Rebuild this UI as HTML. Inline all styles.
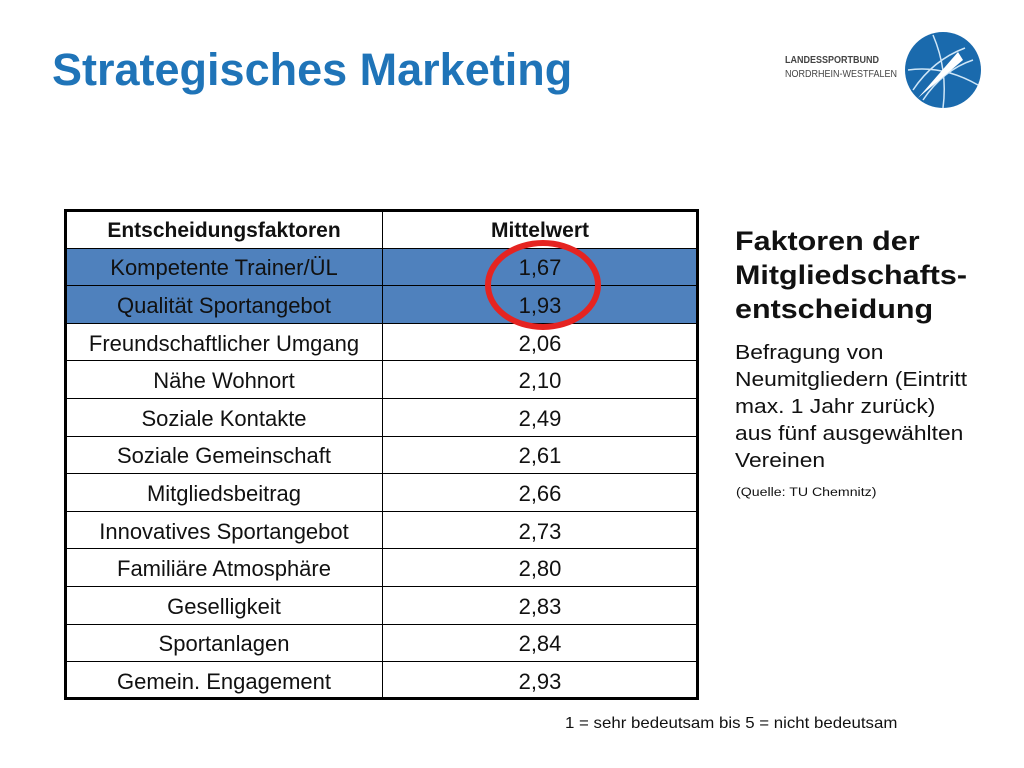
<!DOCTYPE html>
<html><head><meta charset="utf-8"><style>
body{margin:0;width:1024px;height:768px;background:#fff;font-family:"Liberation Sans",sans-serif;position:relative;overflow:hidden}
.a{position:absolute}
.cell{position:absolute;box-sizing:border-box;border:1px solid #000;display:flex;align-items:center;justify-content:center;font-size:22px;padding-top:3px;color:#111}
.sx{transform-origin:0 0;transform:scaleX(1.15)}
</style></head><body>
<div class="a" style="left:52px;top:44px;font-size:45px;font-weight:bold;color:#1f74b8">Strategisches Marketing</div>
<div class="a" style="left:785px;top:54px;font-size:10px;color:#444;line-height:14px;transform-origin:0 0;transform:scaleX(0.9)"><b>LANDESSPORTBUND</b><br>NORDRHEIN-WESTFALEN</div>
<svg class="a" style="left:903px;top:30px" width="80" height="80"><circle cx="40" cy="40" r="38" fill="#1a6aad"/><path d="M10 60 Q30 30 62 18 M20 70 Q40 40 70 30 M5 40 Q40 35 75 55 M30 5 Q45 40 40 78" stroke="#cfe6f7" stroke-width="1.5" fill="none"/><path d="M15 68 L55 22 L60 30 Z" fill="#fff"/></svg>
<div id="tbl"></div>
<div class="a" style="left:64px;top:209px;width:635px;height:491px;border:3px solid #000;box-sizing:border-box"></div>
<svg class="a" style="left:480px;top:235px" width="130" height="100"><ellipse cx="63" cy="50" rx="55" ry="42" fill="none" stroke="#e52421" stroke-width="6"/></svg>
<div class="a sx" style="left:735px;top:224px;font-size:26.5px;font-weight:bold;line-height:34px;color:#111">Faktoren der<br>Mitgliedschafts-<br>entscheidung</div>
<div class="a" style="left:735px;top:340px;font-size:20.3px;line-height:27px;color:#111;transform-origin:0 0;transform:scaleX(1.125)">Befragung von<br>Neumitgliedern (Eintritt<br>max. 1 Jahr zurück)<br>aus fünf ausgewählten<br>Vereinen</div>
<div class="a sx" style="left:736px;top:485px;font-size:12.3px;color:#111">(Quelle: TU Chemnitz)</div>
<div class="a" style="left:565px;top:715px;font-size:15.6px;color:#111;transform-origin:0 0;transform:scaleX(1.08)">1 = sehr bedeutsam bis 5 = nicht bedeutsam</div>
<script>
const factors=["Kompetente Trainer/ÜL","Qualität Sportangebot","Freundschaftlicher Umgang","Nähe Wohnort","Soziale Kontakte","Soziale Gemeinschaft","Mitgliedsbeitrag","Innovatives Sportangebot","Familiäre Atmosphäre","Geselligkeit","Sportanlagen","Gemein. Engagement"];
const means=["1,67","1,93","2,06","2,10","2,49","2,61","2,66","2,73","2,80","2,83","2,84","2,93"];
const highlighted=[true,true,false,false,false,false,false,false,false,false,false,false];
const t=document.getElementById('tbl');
const X0=65,X1=382,X2=698,Y0=210,H=37.6;
function cell(x,y,w,text,bg,bold,name){
 const d=document.createElement('div');d.className='cell';
 
 
 d.style.left=x+'px';d.style.top=y+'px';d.style.width=w+'px';d.style.height=(H+1)+'px';
 d.style.background=bg;if(bold){d.style.fontWeight='bold';d.style.fontSize='21px';}d.textContent=text;t.appendChild(d);
}
cell(X0,Y0,X1-X0+1,"Entscheidungsfaktoren","#fff",true,'header-factor');
cell(X1,Y0,X2-X1,"Mittelwert","#fff",true,'header-mean');
factors.forEach((f,i)=>{
 const y=Y0+H*(i+1);const bg=highlighted[i]?'#4f81bd':'#fff';
 cell(X0,y,X1-X0+1,f,bg,false,'factor-cell');
 cell(X1,y,X2-X1,means[i],bg,false,'mean-cell');
});
</script>
</body></html>
